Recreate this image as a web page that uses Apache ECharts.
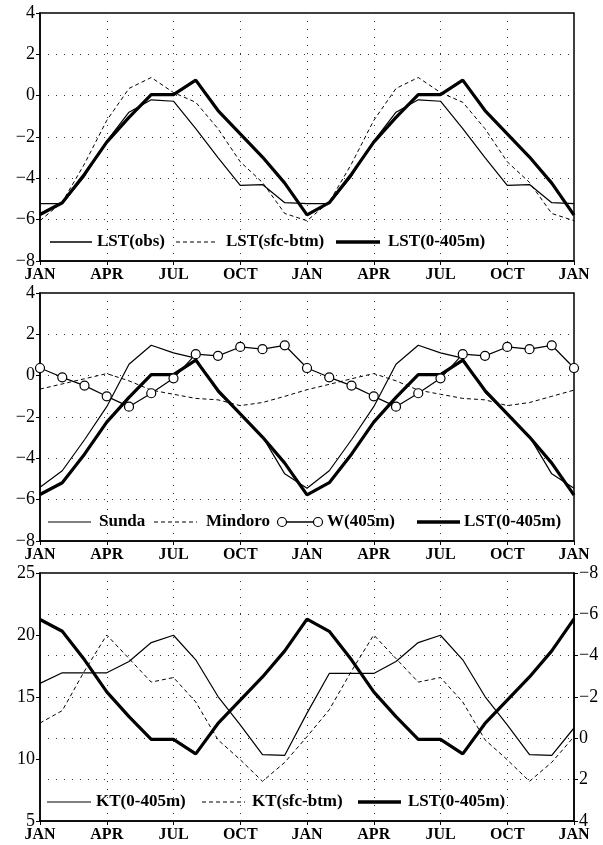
<!DOCTYPE html>
<html lang="en">
<head>
<meta charset="utf-8">
<title>LST / KT seasonal cycle</title>
<style>
  body { margin: 0; background: #fff; }
  #main { width: 603px; height: 845px; }
</style>
</head>
<body>
<div id="main"></div>
<script src="https://cdn.jsdelivr.net/npm/echarts@6/dist/echarts.min.js"></script>
<script>
// month labels on the x axis (every 3 months, JAN..JAN over two years)
var monthNames = ['JAN', 'APR', 'JUL', 'OCT'];

// panel 1
var lstObs = [-5.22, -5.22, -3.9, -2.2, -0.8, -0.2, -0.27, -1.6, -3.0, -4.34, -4.3, -5.18,
              -5.22, -5.22, -3.9, -2.2, -0.8, -0.2, -0.27, -1.6, -3.0, -4.34, -4.3, -5.18, -5.22];
var lstSfc = [-6.05, -5.15, -3.3, -1.2, 0.35, 0.88, 0.15, -0.32, -1.6, -3.2, -4.2, -5.7,
              -6.05, -5.15, -3.3, -1.2, 0.35, 0.88, 0.15, -0.32, -1.6, -3.2, -4.2, -5.7, -6.05];
var lst405 = [-5.75, -5.18, -3.8, -2.25, -1.05, 0.05, 0.05, 0.75, -0.72, -1.85, -2.97, -4.23,
              -5.77, -5.18, -3.8, -2.25, -1.05, 0.05, 0.05, 0.75, -0.72, -1.85, -2.97, -4.23, -5.78];

// panel 2
var sunda = [-5.4, -4.6, -3.1, -1.5, 0.55, 1.47, 1.1, 0.85, -0.8, -1.85, -2.95, -4.75,
             -5.45, -4.6, -3.1, -1.5, 0.55, 1.47, 1.1, 0.85, -0.8, -1.85, -2.95, -4.75, -5.45];
var mindoro = [-0.65, -0.4, -0.15, 0.1, -0.25, -0.7, -0.9, -1.1, -1.17, -1.45, -1.3, -1.0,
               -0.68, -0.42, -0.15, 0.1, -0.25, -0.7, -0.9, -1.1, -1.17, -1.45, -1.3, -1.0, -0.7];
var w405 = [0.37, -0.08, -0.48, -1.0, -1.5, -0.85, -0.13, 1.04, 0.96, 1.39, 1.28, 1.47,
            0.37, -0.08, -0.48, -1.0, -1.5, -0.85, -0.13, 1.04, 0.96, 1.39, 1.28, 1.47, 0.37];

// panel 3 (KT on left axis, LST(0-405m) on inverted right axis)
var kt405 = [16.1, 16.95, 16.95, 16.95, 17.86, 19.39, 19.98, 18.0, 15.04, 12.76, 10.35, 10.3,
             13.7, 16.9, 16.9, 16.9, 17.86, 19.39, 19.98, 18.0, 15.04, 12.76, 10.35, 10.3, 12.5];
var ktSfc = [12.9, 13.9, 17.1, 20.0, 18.1, 16.2, 16.57, 14.6, 11.55, 9.94, 8.2, 9.73,
             11.8, 13.97, 17.1, 20.0, 18.1, 16.2, 16.57, 14.6, 11.55, 9.94, 8.2, 9.73, 11.8];

var serif = '"Liberation Serif", "DejaVu Serif", serif';

function pts(arr) {
    var out = [];
    for (var i = 0; i < arr.length; i++) out.push([i, arr[i]]);
    return out;
}
function minus(v) { return String(v).replace('-', '\u2212'); }

var dotted = { type: [1, 7], color: '#333', width: 1 };

var grids = [
    { left: 40, width: 534, top: 13, height: 248 },
    { left: 40, width: 534, top: 293, height: 248 },
    { left: 40, width: 534, top: 573, height: 248 }
];
grids.forEach(function (g) { g.show = true; g.borderColor = '#000'; g.borderWidth = 1.5; });

function xAx(idx) {
    return {
        type: 'value', gridIndex: idx, min: 0, max: 24, interval: 3,
        axisLine: { onZero: false, lineStyle: { color: '#000', width: 1.5 } },
        axisTick: { length: 4, lineStyle: { color: '#000' } },
        axisLabel: {
            color: '#000', fontFamily: serif, fontWeight: 'bold', fontSize: 16, margin: 6,
            formatter: function (v) { return monthNames[(v / 3) % 4]; }
        },
        splitLine: { show: true, lineStyle: dotted }
    };
}
function yAx(idx, min, max, step, pos, inv, grid) {
    return {
        type: 'value', gridIndex: idx, min: min, max: max, interval: step,
        position: pos, inverse: !!inv,
        axisLine: { show: true, onZero: false, lineStyle: { color: '#000', width: 1.5 } },
        axisTick: { show: true, length: 4, lineStyle: { color: '#000' } },
        axisLabel: { color: '#000', fontFamily: serif, fontSize: 18, margin: 5, formatter: minus },
        splitLine: { show: grid, lineStyle: dotted }
    };
}

function thin(name, arr, xi, yi) {
    return { name: name, type: 'line', xAxisIndex: xi, yAxisIndex: yi, data: pts(arr),
             symbol: 'none', lineStyle: { color: '#000', width: 1.2 } };
}
function dash(name, arr, xi, yi) {
    return { name: name, type: 'line', xAxisIndex: xi, yAxisIndex: yi, data: pts(arr),
             symbol: 'none', lineStyle: { color: '#000', width: 1, type: [4, 3] } };
}
function thick(name, arr, xi, yi) {
    return { name: name, type: 'line', xAxisIndex: xi, yAxisIndex: yi, data: pts(arr), z: 5,
             symbol: 'none', lineStyle: { color: '#000', width: 3.2 } };
}

// legend drawn as graphics inside each panel
function legendLine(x1, x2, y, w, d) {
    return { type: 'line', shape: { x1: x1, y1: y, x2: x2, y2: y },
             style: { stroke: '#000', lineWidth: w, lineDash: d || null }, z: 100 };
}
function legendText(x, y, t) {
    return { type: 'text', x: x, y: y, z: 100,
             style: { text: t, fill: '#000', fontFamily: serif, fontWeight: 'bold', fontSize: 17,
                      verticalAlign: 'middle' } };
}
function ring(cx, cy) {
    return { type: 'circle', shape: { cx: cx, cy: cy, r: 4.5 }, z: 101,
             style: { fill: '#fff', stroke: '#000', lineWidth: 1.2 } };
}

var graphics = [
    legendLine(50, 92, 242, 1.5), legendText(97, 242, 'LST(obs)'),
    legendLine(176, 218, 242, 1, [4, 3]), legendText(226, 242, 'LST(sfc-btm)'),
    legendLine(336, 380, 242, 3.5), legendText(388, 242, 'LST(0-405m)'),

    legendLine(48, 91, 522, 1.2), legendText(99, 522, 'Sunda'),
    legendLine(154, 197, 522, 1, [4, 3]), legendText(206, 522, 'Mindoro'),
    legendLine(282, 318, 522, 1.3), ring(282, 522), ring(318, 522), legendText(327, 522, 'W(405m)'),
    legendLine(417, 460, 522, 3.5), legendText(464, 522, 'LST(0-405m)'),

    legendLine(47, 91, 802, 1.2), legendText(96, 802, 'KT(0-405m)'),
    legendLine(202, 245, 802, 1, [4, 3]), legendText(252, 802, 'KT(sfc-btm)'),
    legendLine(358, 401, 802, 3.5), legendText(408, 802, 'LST(0-405m)')
];

var myChart = echarts.init(document.getElementById('main'));
var option = {
    animation: false,
    backgroundColor: '#fff',
    grid: grids,
    xAxis: [xAx(0), xAx(1), xAx(2)],
    yAxis: [
        yAx(0, -8, 4, 2, 'left', false, true),
        yAx(1, -8, 4, 2, 'left', false, true),
        yAx(2, 5, 25, 5, 'left', false, false),
        yAx(2, -8, 4, 2, 'right', true, true)
    ],
    series: [
        thin('LST(obs)', lstObs, 0, 0),
        dash('LST(sfc-btm)', lstSfc, 0, 0),
        thick('LST(0-405m)', lst405, 0, 0),

        thin('Sunda', sunda, 1, 1),
        dash('Mindoro', mindoro, 1, 1),
        { name: 'W(405m)', type: 'line', xAxisIndex: 1, yAxisIndex: 1, data: pts(w405),
          symbol: 'circle', symbolSize: 9, z: 6,
          itemStyle: { color: '#fff', borderColor: '#000', borderWidth: 1.2 },
          lineStyle: { color: '#000', width: 1.2 } },
        thick('LST(0-405m)', lst405, 1, 1),

        thin('KT(0-405m)', kt405, 2, 2),
        dash('KT(sfc-btm)', ktSfc, 2, 2),
        thick('LST(0-405m)', lst405, 2, 3)
    ],
    graphic: graphics
};
myChart.setOption(option);
</script>
</body>
</html>
